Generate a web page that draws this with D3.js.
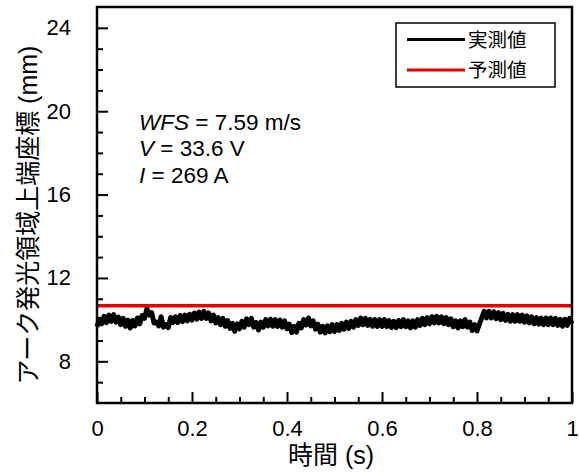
<!DOCTYPE html>
<html>
<head>
<meta charset="utf-8">
<script src="https://cdn.jsdelivr.net/npm/d3@7"></script>
<style>
  body { margin: 0; background: #fff; }
  text { font-family: "Liberation Sans", Arial, "Noto Sans CJK JP", sans-serif; fill: #000; }
</style>
</head>
<body>
<div id="chart"></div>
<script>
var sampleStep = 0.005;
var measured = [
  9.66, 10.02, 9.80, 10.16, 9.86, 10.22, 9.92, 10.24, 9.88, 10.12, 9.76, 10.06, 9.68, 9.98, 9.60, 9.96, 9.70, 10.08, 9.80, 10.20,
  10.06, 10.52, 10.22, 10.34, 9.84, 9.88, 9.70, 10.14, 9.64, 9.76, 9.62, 10.10, 9.86, 10.14, 9.86, 10.20, 9.90, 10.22, 9.94, 10.26,
  9.98, 10.32, 10.02, 10.36, 10.06, 10.40, 10.06, 10.32, 9.94, 10.22, 9.84, 10.10, 9.76, 10.06, 9.68, 9.96, 9.58, 9.82, 9.44, 9.80,
  9.56, 9.92, 9.64, 10.04, 9.76, 10.06, 9.64, 9.86, 9.50, 9.88, 9.64, 10.00, 9.70, 10.02, 9.68, 10.00, 9.68, 9.98, 9.64, 9.94,
  9.56, 9.78, 9.38, 9.68, 9.40, 9.82, 9.60, 10.00, 9.74, 10.08, 9.70, 9.94, 9.54, 9.78, 9.40, 9.68, 9.36, 9.70, 9.42, 9.76,
  9.44, 9.76, 9.48, 9.82, 9.54, 9.88, 9.58, 9.92, 9.64, 10.00, 9.72, 10.08, 9.76, 10.06, 9.72, 10.02, 9.68, 10.00, 9.68, 10.00,
  9.68, 10.00, 9.66, 9.96, 9.62, 9.92, 9.62, 9.96, 9.66, 10.00, 9.66, 9.94, 9.60, 9.94, 9.64, 10.00, 9.72, 10.06, 9.76, 10.10,
  9.80, 10.14, 9.84, 10.16, 9.84, 10.14, 9.80, 10.10, 9.76, 10.04, 9.66, 9.94, 9.60, 9.94, 9.66, 10.00, 9.64, 9.88, 9.48, 9.76,
  9.46, 9.78, 10.08, 10.40, 10.08, 10.40, 10.08, 10.38, 10.04, 10.34, 10.00, 10.30, 9.96, 10.26, 9.92, 10.24, 9.92, 10.24, 9.92, 10.22,
  9.88, 10.18, 9.84, 10.14, 9.80, 10.10, 9.78, 10.08, 9.76, 10.08, 9.76, 10.08, 9.76, 10.06, 9.72, 10.02, 9.68, 10.02, 9.72, 10.06, 9.80
];
var predictedValue = 10.67;

var seriesNames = ["実測値", "予測値"];
var seriesColors = ["#000000", "#e00000"];

var yMajorTicks = [8, 12, 16, 20, 24];
var xMajorTicks = [0, 0.2, 0.4, 0.6, 0.8, 1];
var xTickLabels = ["0", "0.2", "0.4", "0.6", "0.8", "1"];

var notes = [
  { it: "WFS", rest: " = 7.59 m/s" },
  { it: "V", rest: " = 33.6 V" },
  { it: "I", rest: " = 269 A" }
];

var svgWidth = 579, svgHeight = 473;
var margin = { top: 7, left: 97, right: 7, bottom: 70 };
var width = 572 - margin.left;
var height = 403 - margin.top;

var svg = d3.select("#chart").append("svg")
  .attr("width", svgWidth)
  .attr("height", svgHeight);

var chartGroup = svg.append("g")
  .attr("transform", `translate(${margin.left}, ${margin.top})`);

var xScale = d3.scaleLinear().domain([0, 1]).range([0, width]);
var yScale = d3.scaleLinear().domain([6, 25]).range([height, 0]);

// data lines
var lineData = measured.map((v, i) => ({ t: i * sampleStep, v: v }));
var line = d3.line().x(d => xScale(d.t)).y(d => yScale(d.v));

chartGroup.append("path")
  .datum(lineData)
  .attr("fill", "none")
  .attr("stroke", seriesColors[0])
  .attr("stroke-width", 5)
  .attr("stroke-linejoin", "round")
  .attr("d", line);

chartGroup.append("line")
  .attr("x1", xScale(0)).attr("x2", xScale(1))
  .attr("y1", yScale(predictedValue)).attr("y2", yScale(predictedValue))
  .attr("stroke", seriesColors[1])
  .attr("stroke-width", 3.5);

// minor ticks
var xMinor = d3.range(0, 1.0001, 0.05).filter(t => Math.abs(t * 5 - Math.round(t * 5)) > 1e-6);
chartGroup.append("g")
  .attr("transform", `translate(0, ${height})`)
  .call(d3.axisBottom(xScale).tickValues(xMinor).tickSize(-6).tickFormat(""))
  .call(g => g.select(".domain").remove())
  .selectAll("line").attr("stroke-width", 2);

var yMinor = d3.range(7, 25, 1).filter(v => v % 4 !== 0);
chartGroup.append("g")
  .call(d3.axisLeft(yScale).tickValues(yMinor).tickSize(-6).tickFormat(""))
  .call(g => g.select(".domain").remove())
  .selectAll("line").attr("stroke-width", 2);

// major axes
var bottomAxis = d3.axisBottom(xScale).tickValues(xMajorTicks)
  .tickSize(-11).tickPadding(17).tickFormat((d, i) => xTickLabels[i]);
chartGroup.append("g")
  .attr("transform", `translate(0, ${height})`)
  .call(bottomAxis)
  .call(g => g.select(".domain").remove())
  .call(g => g.selectAll("line").attr("stroke-width", 2))
  .call(g => g.selectAll("text").style("font-size", "22px"));

var leftAxis = d3.axisLeft(yScale).tickValues(yMajorTicks).tickSize(-11).tickPadding(26);
chartGroup.append("g")
  .call(leftAxis)
  .call(g => g.select(".domain").remove())
  .call(g => g.selectAll("line").attr("stroke-width", 2))
  .call(g => g.selectAll("text").style("font-size", "22px"));

// frame
chartGroup.append("rect")
  .attr("x", 0).attr("y", 0)
  .attr("width", width).attr("height", height)
  .attr("fill", "none")
  .attr("stroke", "#000")
  .attr("stroke-width", 2.5);

// axis titles
svg.append("text")
  .attr("x", 331).attr("y", 455)
  .attr("text-anchor", "middle")
  .attr("dominant-baseline", "central")
  .style("font-size", "25px")
  .text("時間 (s)");

svg.append("text")
  .attr("transform", "translate(28, 215) rotate(-90)")
  .attr("text-anchor", "middle")
  .attr("dominant-baseline", "central")
  .style("font-size", "25px")
  .text("アーク発光領域上端座標 (mm)");

// annotation
var noteText = svg.append("g").selectAll("text")
  .data(notes)
  .enter()
  .append("text")
  .attr("x", 139)
  .attr("y", (d, i) => 129.5 + i * 26.5)
  .style("font-size", "22.5px");
noteText.append("tspan").style("font-style", "italic").text(d => d.it);
noteText.append("tspan").text(d => d.rest);

// legend
var legend = svg.append("g");
legend.append("rect")
  .attr("x", 396).attr("y", 23)
  .attr("width", 159).attr("height", 64)
  .attr("fill", "#fff")
  .attr("stroke", "#000")
  .attr("stroke-width", 1.5);

seriesNames.forEach(function(name, i) {
  var y = 39.5 + i * 30.5;
  legend.append("line")
    .attr("x1", 407).attr("x2", 465)
    .attr("y1", y).attr("y2", y)
    .attr("stroke", seriesColors[i])
    .attr("stroke-width", 3);
  legend.append("text")
    .attr("x", 468).attr("y", y)
    .attr("dominant-baseline", "central")
    .style("font-size", "19.5px")
    .text(name);
});
</script>
</body>
</html>
